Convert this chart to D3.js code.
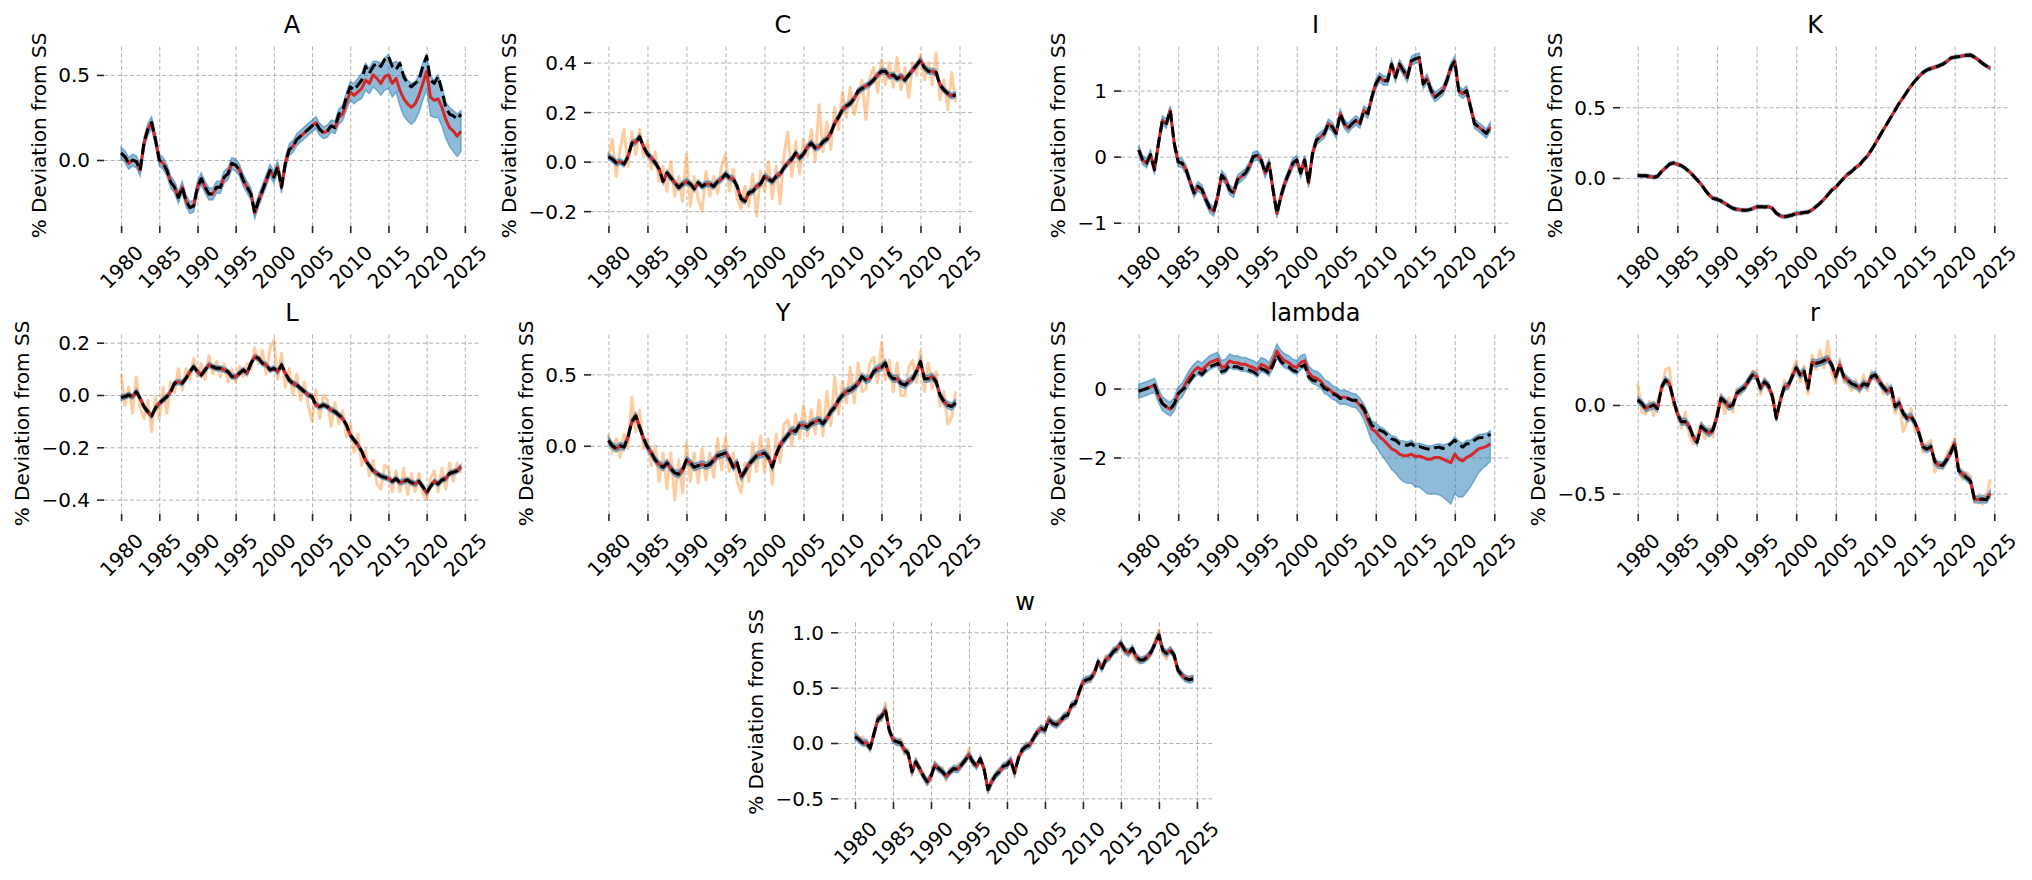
<!DOCTYPE html>
<html>
<head>
<meta charset="utf-8">
<script src="https://cdn.jsdelivr.net/npm/d3@7"></script>
<style>
  body { margin: 0; background: #fff; }
  svg text { font-family: "DejaVu Sans", sans-serif; }
</style>
</head>
<body>
<div id="chart"></div>
<script>
// semi-annual observations, 1980.0 ... 2024.5
var years = d3.range(90).map(function(i) { return 1980 + i * 0.5; });
var yearTicks = [1980, 1985, 1990, 1995, 2000, 2005, 2010, 2015, 2020, 2025];

//A
var aTrue = [
  0.04, 0.02, -0.02, 0.0, -0.01, -0.06, 0.10, 0.18, 0.22, 0.12,
  0.0, -0.02, -0.06, -0.13, -0.16, -0.22, -0.16, -0.24, -0.28, -0.27,
  -0.16, -0.11, -0.16, -0.20, -0.20, -0.16, -0.16, -0.10, -0.08, -0.02,
  -0.03, -0.06, -0.12, -0.16, -0.20, -0.31, -0.24, -0.18, -0.12, -0.06,
  -0.10, -0.04, -0.16, -0.02, 0.06, 0.08, 0.12, 0.14, 0.16, 0.18,
  0.20, 0.22, 0.18, 0.16, 0.17, 0.20, 0.19, 0.27, 0.29, 0.37,
  0.43, 0.41, 0.44, 0.47, 0.55, 0.51, 0.55, 0.57, 0.55, 0.59,
  0.61, 0.55, 0.53, 0.57, 0.49, 0.45, 0.43, 0.45, 0.47, 0.55,
  0.61, 0.47, 0.45, 0.49, 0.41, 0.31, 0.27, 0.26, 0.24, 0.27];
var aMean = [
  0.04, 0.02, -0.02, 0.0, -0.01, -0.06, 0.10, 0.18, 0.22, 0.12,
  0.0, -0.02, -0.06, -0.13, -0.16, -0.22, -0.16, -0.24, -0.28, -0.27,
  -0.16, -0.11, -0.16, -0.20, -0.20, -0.16, -0.16, -0.10, -0.08, -0.02,
  -0.03, -0.06, -0.12, -0.16, -0.20, -0.31, -0.24, -0.18, -0.12, -0.06,
  -0.10, -0.04, -0.16, -0.02, 0.06, 0.08, 0.12, 0.14, 0.16, 0.18,
  0.20, 0.22, 0.18, 0.16, 0.17, 0.20, 0.19, 0.25, 0.27, 0.34,
  0.40, 0.38, 0.40, 0.42, 0.47, 0.45, 0.50, 0.48, 0.45, 0.49,
  0.50, 0.45, 0.48, 0.41, 0.36, 0.33, 0.31, 0.33, 0.38, 0.45,
  0.52, 0.37, 0.35, 0.36, 0.31, 0.24, 0.19, 0.17, 0.14, 0.17];
var aBandUp = [
  0.035, 0.035, 0.035, 0.035, 0.035, 0.035, 0.035, 0.035, 0.035, 0.035,
  0.035, 0.035, 0.035, 0.035, 0.035, 0.035, 0.035, 0.035, 0.035, 0.035,
  0.035, 0.035, 0.035, 0.035, 0.035, 0.035, 0.035, 0.035, 0.035, 0.035,
  0.035, 0.035, 0.035, 0.035, 0.035, 0.035, 0.035, 0.035, 0.035, 0.035,
  0.035, 0.035, 0.035, 0.035, 0.035, 0.035, 0.035, 0.035, 0.035, 0.035,
  0.035, 0.035, 0.035, 0.035, 0.035, 0.035, 0.04, 0.05, 0.05, 0.06,
  0.06, 0.07, 0.08, 0.09, 0.10, 0.09, 0.08, 0.10, 0.12, 0.11,
  0.12, 0.12, 0.10, 0.15, 0.15, 0.14, 0.14, 0.13, 0.12, 0.12,
  0.10, 0.12, 0.12, 0.14, 0.12, 0.10, 0.12, 0.12, 0.13, 0.12];
var aBandDown = [
  0.035, 0.035, 0.035, 0.035, 0.035, 0.035, 0.035, 0.035, 0.035, 0.035,
  0.035, 0.035, 0.035, 0.035, 0.035, 0.035, 0.035, 0.035, 0.035, 0.035,
  0.035, 0.035, 0.035, 0.035, 0.035, 0.035, 0.035, 0.035, 0.035, 0.035,
  0.035, 0.035, 0.035, 0.035, 0.035, 0.035, 0.035, 0.035, 0.035, 0.035,
  0.035, 0.035, 0.035, 0.035, 0.035, 0.035, 0.035, 0.035, 0.035, 0.035,
  0.035, 0.035, 0.035, 0.035, 0.035, 0.035, 0.035, 0.04, 0.04, 0.045,
  0.05, 0.05, 0.05, 0.06, 0.06, 0.06, 0.07, 0.07, 0.07, 0.08,
  0.08, 0.08, 0.08, 0.09, 0.10, 0.10, 0.10, 0.10, 0.10, 0.10,
  0.10, 0.11, 0.10, 0.11, 0.11, 0.11, 0.11, 0.12, 0.12, 0.12];

//C
var cTrue = [
  0.02, 0.01, -0.005, 0.0, -0.01, 0.02, 0.075, 0.08, 0.10, 0.06,
  0.03, 0.015, -0.005, -0.03, -0.08, -0.045, -0.065, -0.085, -0.105, -0.09,
  -0.08, -0.09, -0.11, -0.085, -0.10, -0.09, -0.09, -0.10, -0.08, -0.07,
  -0.05, -0.065, -0.07, -0.10, -0.15, -0.16, -0.125, -0.12, -0.10, -0.09,
  -0.06, -0.07, -0.08, -0.06, -0.05, -0.025, -0.005, 0.01, 0.035, 0.015,
  0.03, 0.06, 0.075, 0.055, 0.06, 0.08, 0.09, 0.115, 0.155, 0.18,
  0.21, 0.225, 0.235, 0.255, 0.285, 0.295, 0.305, 0.315, 0.33, 0.35,
  0.365, 0.365, 0.345, 0.35, 0.335, 0.345, 0.33, 0.35, 0.37, 0.39,
  0.41, 0.38, 0.365, 0.365, 0.36, 0.31, 0.29, 0.275, 0.265, 0.27];
var cObs = [
  0.02, 0.09, -0.06, 0.05, 0.13, -0.02, 0.12, 0.03, 0.13, 0.02,
  0.08, -0.03, 0.04, -0.08, -0.02, -0.12, 0.0, -0.14, -0.06, -0.16,
  0.03, -0.18, -0.06, -0.15, -0.20, -0.04, -0.14, -0.06, -0.13, -0.02,
  0.03, -0.12, -0.03, -0.15, -0.19, -0.10, -0.18, -0.05, -0.22, -0.04,
  -0.12, 0.00, -0.15, -0.02, -0.17, 0.03, 0.12, -0.06, 0.08, -0.05,
  0.09, 0.02, 0.13, 0.0, 0.23, 0.04, 0.16, 0.05, 0.22, 0.13,
  0.28, 0.18, 0.30, 0.19, 0.25, 0.33, 0.17, 0.34, 0.38, 0.28,
  0.41, 0.31, 0.40, 0.30, 0.42, 0.29, 0.38, 0.26, 0.40, 0.35,
  0.43, 0.33, 0.40, 0.31, 0.44, 0.25, 0.33, 0.21, 0.36, 0.24];

//I
var iTrue = [
  0.10, -0.05, -0.10, 0.03, -0.20, 0.20, 0.55, 0.50, 0.70, 0.20,
  -0.08, -0.10, -0.20, -0.38, -0.55, -0.45, -0.50, -0.65, -0.78, -0.83,
  -0.60, -0.28, -0.35, -0.50, -0.55, -0.35, -0.30, -0.25, -0.15, 0.0,
  0.02, -0.05, -0.25, -0.10, -0.50, -0.86, -0.60, -0.40, -0.25, -0.10,
  -0.05, -0.25, -0.05, -0.40, 0.05, 0.25, 0.30, 0.35, 0.50, 0.45,
  0.35, 0.65, 0.50, 0.43, 0.50, 0.55, 0.50, 0.70, 0.65, 0.90,
  1.10, 1.20, 1.15, 1.15, 1.40, 1.20, 1.40, 1.30, 1.20, 1.45,
  1.48, 1.50, 1.10, 1.18, 1.00, 0.90, 0.95, 1.00, 1.15, 1.35,
  1.45, 1.00, 0.95, 1.00, 0.75, 0.50, 0.45, 0.40, 0.35, 0.45];

//K
var kTrue = [
  0.017, 0.016, 0.015, 0.01, 0.005, 0.01, 0.045, 0.07, 0.097, 0.106,
  0.097, 0.087, 0.068, 0.045, 0.017, -0.014, -0.045, -0.085, -0.12, -0.144,
  -0.151, -0.163, -0.18, -0.198, -0.215, -0.222, -0.226, -0.229, -0.226, -0.217,
  -0.205, -0.203, -0.205, -0.203, -0.215, -0.25, -0.269, -0.274, -0.269, -0.262,
  -0.252, -0.25, -0.245, -0.241, -0.226, -0.203, -0.18, -0.151, -0.12, -0.085,
  -0.066, -0.033, -0.002, 0.026, 0.045, 0.073, 0.092, 0.127, 0.156, 0.198,
  0.245, 0.292, 0.34, 0.387, 0.434, 0.481, 0.528, 0.568, 0.611, 0.651,
  0.686, 0.717, 0.745, 0.764, 0.774, 0.783, 0.792, 0.804, 0.823, 0.847,
  0.854, 0.858, 0.863, 0.868, 0.87, 0.854, 0.835, 0.811, 0.792, 0.776];

//L
var lTrue = [
  -0.01, -0.006, 0.0, -0.006, 0.013, -0.013, -0.045, -0.064, -0.08, -0.05,
  -0.032, -0.019, -0.006, 0.013, 0.045, 0.05, 0.045, 0.064, 0.089, 0.108,
  0.089, 0.076, 0.096, 0.115, 0.108, 0.102, 0.102, 0.096, 0.089, 0.07,
  0.07, 0.083, 0.096, 0.083, 0.121, 0.146, 0.14, 0.121, 0.115, 0.096,
  0.102, 0.089, 0.115, 0.083, 0.057, 0.045, 0.038, 0.025, 0.013, 0.0,
  -0.006, -0.038, -0.045, -0.038, -0.045, -0.057, -0.064, -0.076, -0.089, -0.115,
  -0.153, -0.172, -0.191, -0.215, -0.25, -0.27, -0.29, -0.30, -0.31, -0.315,
  -0.32, -0.33, -0.32, -0.335, -0.33, -0.325, -0.335, -0.34, -0.33, -0.35,
  -0.375, -0.35, -0.33, -0.34, -0.325, -0.32, -0.30, -0.295, -0.29, -0.275];
var lObs = [
  0.08, -0.04, 0.03, -0.07, 0.07, -0.05, -0.09, -0.02, -0.14, -0.01,
  -0.09, 0.03, -0.07, 0.05, 0.01, 0.10, 0.02, 0.10, 0.06, 0.14,
  0.07, 0.12, 0.06, 0.15, 0.08, 0.13, 0.07, 0.12, 0.05, 0.10,
  0.05, 0.11, 0.07, 0.12, 0.10, 0.18, 0.12, 0.17, 0.08, 0.18,
  0.21, 0.06, 0.16, 0.03, 0.10, 0.0, 0.08, -0.02, 0.05, -0.04,
  -0.10, 0.02, -0.09, 0.0, -0.02, -0.12, -0.03, -0.11, -0.06, -0.16,
  -0.11, -0.22, -0.15, -0.27, -0.21, -0.31, -0.25, -0.34, -0.36, -0.27,
  -0.28, -0.37, -0.29, -0.37, -0.28, -0.38, -0.30, -0.37, -0.30, -0.38,
  -0.40, -0.32, -0.29, -0.37, -0.28, -0.36, -0.26, -0.33, -0.26, -0.30];

//Y
var yTrue = [
  0.036, 0.0, -0.02, 0.0, -0.01, 0.06, 0.17, 0.21, 0.13, 0.05,
  -0.01, -0.05, -0.10, -0.13, -0.15, -0.12, -0.16, -0.19, -0.20, -0.17,
  -0.10, -0.12, -0.15, -0.14, -0.13, -0.14, -0.13, -0.10, -0.07, -0.06,
  -0.05, -0.09, -0.15, -0.12, -0.22, -0.18, -0.13, -0.10, -0.07, -0.06,
  -0.05, -0.08, -0.15, -0.06, 0.005, 0.04, 0.075, 0.11, 0.10, 0.145,
  0.145, 0.13, 0.155, 0.17, 0.18, 0.155, 0.19, 0.24, 0.27, 0.32,
  0.355, 0.38, 0.39, 0.41, 0.437, 0.485, 0.46, 0.47, 0.52, 0.54,
  0.55, 0.58, 0.495, 0.47, 0.47, 0.437, 0.425, 0.45, 0.47, 0.52,
  0.59, 0.47, 0.47, 0.485, 0.45, 0.355, 0.31, 0.285, 0.275, 0.30];
var yObs = [
  0.08, -0.05, 0.05, -0.08, 0.08, -0.02, 0.34, 0.10, 0.25, -0.02,
  0.05, -0.14, 0.0, -0.25, -0.05, -0.30, -0.05, -0.38, -0.10, -0.33,
  0.02, -0.25, -0.05, -0.26, -0.02, -0.24, -0.05, -0.22, 0.05, -0.17,
  0.06, -0.18, -0.05, -0.25, -0.33, -0.12, -0.25, 0.02, -0.18, 0.07,
  -0.18, 0.05, -0.27, 0.08, -0.12, 0.15, 0.18, 0.0, 0.22, 0.05,
  0.28, 0.07, 0.25, 0.08, 0.32, 0.07, 0.38, 0.14, 0.48, 0.22,
  0.45, 0.30, 0.55, 0.30, 0.58, 0.38, 0.40, 0.58, 0.62, 0.44,
  0.72, 0.46, 0.60, 0.38, 0.58, 0.35, 0.35, 0.55, 0.60, 0.44,
  0.66, 0.38, 0.58, 0.40, 0.52, 0.28, 0.38, 0.15, 0.20, 0.38];

//lambda
var lamTrue = [
  -0.08, -0.04, 0.0, 0.05, 0.1, -0.2, -0.44, -0.53, -0.6, -0.45,
  -0.15, -0.05, 0.05, 0.24, 0.39, 0.49, 0.41, 0.53, 0.63, 0.68,
  0.73, 0.49, 0.53, 0.68, 0.63, 0.63, 0.58, 0.58, 0.53, 0.49,
  0.41, 0.58, 0.53, 0.44, 0.68, 0.97, 0.78, 0.68, 0.63, 0.53,
  0.49, 0.63, 0.68, 0.34, 0.24, 0.21, 0.15, 0.0, -0.05, -0.15,
  -0.19, -0.29, -0.27, -0.29, -0.34, -0.34, -0.44, -0.58, -0.83, -1.07,
  -1.12, -1.21, -1.26, -1.36, -1.46, -1.5, -1.6, -1.62, -1.65, -1.6,
  -1.7, -1.68, -1.72, -1.75, -1.77, -1.72, -1.7, -1.74, -1.7, -1.6,
  -1.5, -1.62, -1.7, -1.6, -1.6, -1.5, -1.43, -1.42, -1.4, -1.32];
var lamMean = [
  -0.08, -0.04, 0.0, 0.05, 0.1, -0.2, -0.44, -0.53, -0.6, -0.45,
  -0.15, -0.05, 0.17, 0.36, 0.51, 0.61, 0.53, 0.65, 0.75, 0.80,
  0.85, 0.61, 0.65, 0.80, 0.75, 0.75, 0.70, 0.70, 0.65, 0.61,
  0.53, 0.70, 0.65, 0.56, 0.80, 1.09, 0.90, 0.80, 0.75, 0.65,
  0.61, 0.75, 0.80, 0.46, 0.34, 0.30, 0.22, 0.06, 0.0, -0.11,
  -0.16, -0.26, -0.25, -0.28, -0.34, -0.36, -0.48, -0.65, -0.92, -1.18,
  -1.25, -1.4, -1.5, -1.62, -1.75, -1.8, -1.9, -1.95, -1.95, -1.9,
  -1.98, -1.96, -2.0, -2.05, -2.05, -2.0, -2.0, -2.05, -2.1, -2.15,
  -1.9, -2.05, -2.1, -2.0, -1.95, -1.85, -1.75, -1.72, -1.68, -1.6];
var lamBandUp = [
  0.2, 0.2, 0.2, 0.2, 0.2, 0.2, 0.2, 0.2, 0.2, 0.2,
  0.2, 0.2, 0.2, 0.2, 0.2, 0.2, 0.2, 0.2, 0.2, 0.2,
  0.2, 0.2, 0.2, 0.2, 0.2, 0.2, 0.2, 0.2, 0.2, 0.2,
  0.2, 0.2, 0.2, 0.2, 0.2, 0.2, 0.2, 0.2, 0.2, 0.2,
  0.2, 0.2, 0.2, 0.2, 0.2, 0.2, 0.2, 0.2, 0.2, 0.2,
  0.2, 0.2, 0.2, 0.2, 0.2, 0.2, 0.2, 0.2, 0.22, 0.24,
  0.25, 0.3, 0.34, 0.36, 0.38, 0.4, 0.4, 0.43, 0.4, 0.4,
  0.38, 0.38, 0.38, 0.4, 0.38, 0.38, 0.4, 0.41, 0.5, 0.6,
  0.5, 0.53, 0.5, 0.5, 0.45, 0.45, 0.42, 0.4, 0.38, 0.38];
var lamBandDown = [
  0.2, 0.2, 0.2, 0.2, 0.2, 0.2, 0.2, 0.2, 0.2, 0.2,
  0.2, 0.2, 0.2, 0.2, 0.2, 0.2, 0.2, 0.2, 0.2, 0.2,
  0.2, 0.2, 0.2, 0.2, 0.2, 0.2, 0.2, 0.2, 0.2, 0.2,
  0.2, 0.2, 0.2, 0.2, 0.2, 0.2, 0.2, 0.2, 0.2, 0.2,
  0.2, 0.2, 0.2, 0.2, 0.2, 0.2, 0.2, 0.2, 0.2, 0.2,
  0.2, 0.2, 0.2, 0.2, 0.2, 0.2, 0.22, 0.25, 0.3, 0.35,
  0.4, 0.45, 0.5, 0.55, 0.6, 0.65, 0.7, 0.75, 0.8, 0.85,
  0.88, 0.9, 0.95, 1.0, 1.02, 1.05, 1.08, 1.1, 1.15, 1.2,
  1.15, 1.1, 1.05, 1.0, 0.9, 0.8, 0.7, 0.6, 0.55, 0.5];

//r
var rTrue = [
  0.028, 0.01, -0.02, -0.01, 0.0, -0.02, 0.10, 0.14, 0.12, 0.03,
  -0.05, -0.094, -0.094, -0.12, -0.18, -0.21, -0.12, -0.14, -0.16, -0.14,
  -0.066, 0.038, 0.019, -0.01, 0.0, 0.066, 0.085, 0.10, 0.14, 0.17,
  0.16, 0.094, 0.13, 0.11, 0.047, -0.075, 0.028, 0.10, 0.11, 0.16,
  0.21, 0.17, 0.19, 0.094, 0.24, 0.235, 0.24, 0.25, 0.26, 0.225,
  0.16, 0.225, 0.16, 0.14, 0.12, 0.11, 0.094, 0.12, 0.11, 0.16,
  0.17, 0.13, 0.10, 0.075, 0.094, -0.01, 0.01, -0.047, -0.075, -0.066,
  -0.10, -0.16, -0.235, -0.25, -0.235, -0.32, -0.34, -0.34, -0.31, -0.27,
  -0.216, -0.37, -0.39, -0.41, -0.43, -0.53, -0.535, -0.53, -0.535, -0.50];
var rObs = [
  0.12, -0.04, -0.05, 0.02, -0.06, 0.03, 0.07, 0.20, 0.21, 0.0,
  -0.02, -0.13, -0.04, -0.17, -0.22, -0.17, -0.10, -0.19, -0.12, -0.18,
  -0.04, 0.06, -0.05, 0.04, -0.04, 0.09, 0.06, 0.12, 0.12, 0.19,
  0.19, 0.06, 0.15, 0.08, 0.07, -0.04, 0.0, 0.14, 0.09, 0.19,
  0.25, 0.13, 0.22, 0.06, 0.28, 0.20, 0.31, 0.21, 0.36, 0.18,
  0.12, 0.26, 0.13, 0.12, 0.08, 0.14, 0.07, 0.17, 0.08, 0.19,
  0.14, 0.16, 0.06, 0.12, 0.05, -0.05, 0.04, -0.15, -0.10, -0.02,
  -0.15, -0.13, -0.27, -0.22, -0.20, -0.38, -0.32, -0.36, -0.28, -0.24,
  -0.19, -0.35, -0.42, -0.38, -0.40, -0.55, -0.51, -0.56, -0.52, -0.42];

//w
var wTrue = [
  0.057, 0.033, 0.0, 0.003, -0.048, 0.087, 0.21, 0.24, 0.30, 0.12,
  0.027, 0.012, 0.0, -0.063, -0.093, -0.26, -0.17, -0.23, -0.30, -0.35,
  -0.30, -0.20, -0.23, -0.26, -0.30, -0.26, -0.23, -0.24, -0.20, -0.154,
  -0.108, -0.17, -0.21, -0.14, -0.24, -0.42, -0.35, -0.29, -0.26, -0.21,
  -0.20, -0.154, -0.27, -0.14, -0.063, -0.033, -0.018, 0.042, 0.10, 0.13,
  0.117, 0.21, 0.18, 0.163, 0.193, 0.24, 0.253, 0.343, 0.358, 0.464,
  0.554, 0.57, 0.584, 0.63, 0.735, 0.675, 0.75, 0.78, 0.825, 0.855,
  0.90, 0.84, 0.81, 0.855, 0.78, 0.75, 0.75, 0.78, 0.825, 0.90,
  0.976, 0.84, 0.81, 0.84, 0.795, 0.66, 0.614, 0.584, 0.57, 0.58];
var wObs = [
  0.11, 0.02, 0.06, -0.03, -0.02, 0.06, 0.25, 0.20, 0.36, 0.10,
  0.05, -0.02, 0.04, -0.10, -0.06, -0.29, -0.14, -0.27, -0.27, -0.38,
  -0.33, -0.17, -0.26, -0.22, -0.34, -0.23, -0.26, -0.20, -0.17, -0.18,
  -0.05, -0.20, -0.18, -0.17, -0.22, -0.44, -0.32, -0.31, -0.23, -0.24,
  -0.17, -0.18, -0.30, -0.11, -0.09, 0.0, -0.04, 0.07, 0.07, 0.16,
  0.09, 0.24, 0.16, 0.19, 0.22, 0.20, 0.29, 0.31, 0.38, 0.44,
  0.52, 0.60, 0.55, 0.66, 0.70, 0.70, 0.79, 0.75, 0.86, 0.82,
  0.92, 0.80, 0.85, 0.80, 0.74, 0.72, 0.78, 0.75, 0.80, 0.93,
  1.02, 0.80, 0.76, 0.86, 0.77, 0.64, 0.64, 0.56, 0.60, 0.61];

//panel tables
var panelNames = ["A", "C", "I", "K", "L", "Y", "lambda", "r", "w"];
var truthSeries = [aTrue, cTrue, iTrue, kTrue, lTrue, yTrue, lamTrue, rTrue, wTrue];
var meanSeries = [aMean, cTrue, iTrue, kTrue, lTrue, yTrue, lamMean, rTrue, wTrue];
var obsSeries = [null, cObs, null, null, lObs, yObs, null, rObs, wObs];
var bandUpSeries = [aBandUp, null, null, null, null, null, lamBandUp, null, null];
var bandDownSeries = [aBandDown, null, null, null, null, null, lamBandDown, null, null];
var bandHalf = [0, 0.012, 0.07, 0.012, 0.01, 0.025, 0, 0.02, 0.03];
var yLimits = [[-0.388, 0.676], [-0.26, 0.471], [-1.05, 1.69], [-0.34, 0.94],
               [-0.455, 0.237], [-0.478, 0.79], [-3.64, 1.61], [-0.615, 0.406], [-0.533, 1.093]];
var yTickValues = [[0, 0.5], [-0.2, 0, 0.2, 0.4], [-1, 0, 1], [0, 0.5],
                   [-0.4, -0.2, 0, 0.2], [0, 0.5], [-2, 0], [-0.5, 0], [-0.5, 0, 0.5, 1]];
var yTickFormats = [".1f", ".1f", "d", ".1f", ".1f", ".1f", "d", ".1f", ".1f"];

//axes boxes in pixels
var boxes = [
  {left: 104, right: 480, top: 45, bottom: 226},
  {left: 591, right: 975, top: 45, bottom: 226},
  {left: 1121, right: 1510, top: 45, bottom: 226},
  {left: 1620, right: 2010, top: 45, bottom: 226},
  {left: 104, right: 480, top: 333, bottom: 514},
  {left: 591, right: 975, top: 333, bottom: 514},
  {left: 1121, right: 1510, top: 333, bottom: 514},
  {left: 1620, right: 2010, top: 333, bottom: 514},
  {left: 838, right: 1212, top: 622, bottom: 802}
];
var xDomain = [1977.7625, 2026.9875];

var svg = d3.select("#chart").append("svg")
  .attr("width", 2032)
  .attr("height", 880)
  .style("background", "#fff");

panelNames.forEach(function(name, i) {
  var box = boxes[i];
  var x = d3.scaleLinear().domain(xDomain).range([box.left, box.right]);
  var y = d3.scaleLinear().domain(yLimits[i]).range([box.bottom, box.top]);
  var g = svg.append("g");
  var w = box.right - box.left, h = box.bottom - box.top;

  //grid
  g.append("g")
    .attr("transform", `translate(0,${box.bottom})`)
    .call(d3.axisBottom(x).tickValues(yearTicks).tickSize(-h).tickFormat(""))
    .call(function(s) { s.select(".domain").remove(); });
  g.append("g")
    .attr("transform", `translate(${box.left},0)`)
    .call(d3.axisLeft(y).tickValues(yTickValues[i]).tickSize(-w).tickFormat(""))
    .call(function(s) { s.select(".domain").remove(); });
  g.selectAll("g.tick line")
    .attr("stroke", "#b0b0b0")
    .attr("stroke-width", 1)
    .attr("stroke-dasharray", "4,2.5");

  var truth = truthSeries[i], mean = meanSeries[i], obs = obsSeries[i];
  var up = bandUpSeries[i], down = bandDownSeries[i];
  var line = d3.line().x(function(d, j) { return x(years[j]); }).y(function(d) { return y(d); });
  var area = d3.area()
    .x(function(d, j) { return x(years[j]); })
    .y0(function(d, j) { return y(d - (down ? down[j] : bandHalf[i])); })
    .y1(function(d, j) { return y(d + (up ? up[j] : bandHalf[i])); });

  if (obs) {
    g.append("path").attr("d", line(obs))
      .attr("fill", "none").attr("stroke", "#ff7f0e").attr("stroke-opacity", 0.4)
      .attr("stroke-width", 3).attr("stroke-linejoin", "round");
  }
  g.append("path").attr("d", area(mean))
    .attr("fill", "#1f77b4").attr("fill-opacity", 0.5)
    .attr("stroke", "#1f77b4").attr("stroke-opacity", 0.5).attr("stroke-width", 1.5);
  g.append("path").attr("d", line(mean))
    .attr("fill", "none").attr("stroke", "#d62728").attr("stroke-width", 3)
    .attr("stroke-linejoin", "round");
  g.append("path").attr("d", line(truth))
    .attr("fill", "none").attr("stroke", "#000").attr("stroke-width", 3)
    .attr("stroke-dasharray", "11,4.8").attr("stroke-linejoin", "round");

  //axes with tick marks
  var yAxis = g.append("g")
    .attr("transform", `translate(${box.left},0)`)
    .call(d3.axisLeft(y).tickValues(yTickValues[i]).tickSize(7).tickPadding(7)
      .tickFormat(d3.format(yTickFormats[i])));
  yAxis.select(".domain").remove();
  yAxis.attr("font-size", 20).attr("font-family", "DejaVu Sans");
  yAxis.selectAll(".tick line").attr("stroke", "#262626").attr("stroke-width", 1.6);
  yAxis.selectAll(".tick text").attr("fill", "#000").attr("dy", "0.35em");

  var xAxis = g.append("g")
    .attr("transform", `translate(0,${box.bottom})`)
    .call(d3.axisBottom(x).tickValues(yearTicks).tickSize(7).tickFormat(d3.format("d")));
  xAxis.select(".domain").remove();
  xAxis.attr("font-size", 20).attr("font-family", "DejaVu Sans");
  xAxis.selectAll(".tick line").attr("stroke", "#262626").attr("stroke-width", 1.6);
  xAxis.selectAll(".tick text")
    .attr("fill", "#000")
    .attr("y", 0).attr("dy", null)
    .attr("text-anchor", "middle")
    .attr("dominant-baseline", "central")
    .attr("transform", "translate(0,41) rotate(-45)");

  //title
  g.append("text")
    .attr("x", (box.left + box.right) / 2)
    .attr("y", box.top - 12)
    .attr("text-anchor", "middle")
    .attr("font-size", 24)
    .attr("fill", "#000")
    .text(name);

  //y label placed left of the widest tick label
  var maxW = 0;
  yAxis.selectAll(".tick text").each(function() {
    maxW = Math.max(maxW, this.getComputedTextLength());
  });
  var lx = box.left - 14 - maxW - 8 - 11.6;
  var ly = (box.top + box.bottom) / 2;
  g.append("text")
    .attr("transform", `translate(${lx},${ly}) rotate(-90)`)
    .attr("text-anchor", "middle")
    .attr("dominant-baseline", "central")
    .attr("font-size", 20)
    .attr("fill", "#000")
    .text("% Deviation from SS");
});
</script>
</body>
</html>
